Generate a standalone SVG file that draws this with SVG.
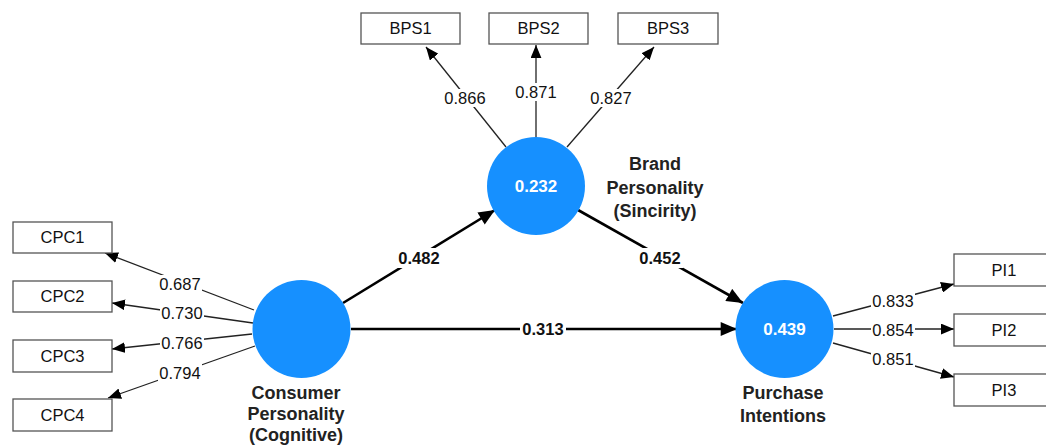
<svg xmlns="http://www.w3.org/2000/svg" width="1046" height="447" viewBox="0 0 1046 447">
<defs>
<marker id="ah" viewBox="0 0 12 10" refX="12" refY="5" markerWidth="13" markerHeight="11" markerUnits="userSpaceOnUse" orient="auto"><path d="M0,0 L12,5 L0,10 Z" fill="#000"/></marker>
<marker id="ahb" viewBox="0 0 14 12" refX="14" refY="6" markerWidth="17" markerHeight="14" markerUnits="userSpaceOnUse" orient="auto"><path d="M0,0 L14,6 L0,12 Z" fill="#000"/></marker>
<style>
.box{fill:#fff;stroke:#555;stroke-width:1.3}
.bt{font-family:"Liberation Sans",Arial,sans-serif;font-size:16.5px;fill:#111;text-anchor:middle}
.lv{fill:#1690ff}
.lvt{font-family:"Liberation Sans",Arial,sans-serif;font-size:17px;font-weight:bold;fill:#fff;text-anchor:middle}
.lvn{font-family:"Liberation Sans",Arial,sans-serif;font-size:18px;font-weight:bold;fill:#222;text-anchor:middle}
.ol{stroke:#222;stroke-width:1.3;fill:none;marker-end:url(#ah)}
.sl{stroke:#000;stroke-width:2.6;fill:none;marker-end:url(#ahb)}
.ll{font-family:"Liberation Sans",Arial,sans-serif;font-size:16.5px;fill:#111;text-anchor:middle}
.sll{font-family:"Liberation Sans",Arial,sans-serif;font-size:16.5px;font-weight:bold;fill:#111;text-anchor:middle}
.bg{fill:#fff}
</style>
</defs>
<rect width="1046" height="447" fill="#fff"/>
<g id="connectors">
<line class="ol" x1="506" y1="147" x2="426" y2="47"/>
<line class="ol" x1="536" y1="138" x2="536" y2="45"/>
<line class="ol" x1="567" y1="147" x2="654" y2="47"/>
<line class="ol" x1="254" y1="310" x2="105" y2="253"/>
<line class="ol" x1="253" y1="323" x2="112" y2="303"/>
<line class="ol" x1="252" y1="334" x2="112" y2="349"/>
<line class="ol" x1="255" y1="346" x2="108" y2="398"/>
<line class="ol" x1="833" y1="316" x2="954" y2="284"/>
<line class="ol" x1="834" y1="329" x2="954" y2="329"/>
<line class="ol" x1="833" y1="343" x2="954" y2="377"/>
<line class="sl" x1="343" y1="303" x2="495" y2="210"/>
<line class="sl" x1="578" y1="210" x2="743" y2="303"/>
<line class="sl" x1="351" y1="329" x2="737" y2="329"/>
<rect class="bg" x="443" y="89" width="44" height="18"/><text class="ll" x="465" y="98" dy="0.36em">0.866</text>
<rect class="bg" x="514" y="83" width="44" height="18"/><text class="ll" x="536" y="92" dy="0.36em">0.871</text>
<rect class="bg" x="589" y="89" width="44" height="18"/><text class="ll" x="611" y="98" dy="0.36em">0.827</text>
<rect class="bg" x="158" y="275" width="44" height="18"/><text class="ll" x="180" y="284" dy="0.36em">0.687</text>
<rect class="bg" x="160" y="304" width="44" height="18"/><text class="ll" x="182" y="313" dy="0.36em">0.730</text>
<rect class="bg" x="160" y="334" width="44" height="18"/><text class="ll" x="182" y="343" dy="0.36em">0.766</text>
<rect class="bg" x="158" y="364" width="44" height="18"/><text class="ll" x="180" y="373" dy="0.36em">0.794</text>
<rect class="bg" x="871" y="292" width="44" height="18"/><text class="ll" x="893" y="301" dy="0.36em">0.833</text>
<rect class="bg" x="871" y="321" width="44" height="18"/><text class="ll" x="893" y="330" dy="0.36em">0.854</text>
<rect class="bg" x="871" y="350" width="44" height="18"/><text class="ll" x="893" y="359" dy="0.36em">0.851</text>
<rect class="bg" x="396" y="248" width="46" height="20"/><text class="sll" x="419" y="258" dy="0.36em">0.482</text>
<rect class="bg" x="637" y="248" width="46" height="20"/><text class="sll" x="660" y="258" dy="0.36em">0.452</text>
<rect class="bg" x="520" y="319" width="46" height="20"/><text class="sll" x="543" y="329" dy="0.36em">0.313</text>
</g>
<g id="BPS1"><rect class="box" x="361" y="13" width="99" height="31"/><text class="bt" x="410.5" y="28.5" dy="0.36em">BPS1</text></g>
<g id="BPS2"><rect class="box" x="489" y="13" width="99" height="31"/><text class="bt" x="538.5" y="28.5" dy="0.36em">BPS2</text></g>
<g id="BPS3"><rect class="box" x="618" y="13" width="100" height="31"/><text class="bt" x="668" y="28.5" dy="0.36em">BPS3</text></g>
<g id="CPC1"><rect class="box" x="13" y="222" width="99" height="31"/><text class="bt" x="62.5" y="237.5" dy="0.36em">CPC1</text></g>
<g id="CPC2"><rect class="box" x="13" y="281" width="99" height="31"/><text class="bt" x="62.5" y="296.5" dy="0.36em">CPC2</text></g>
<g id="CPC3"><rect class="box" x="13" y="340" width="99" height="32"/><text class="bt" x="62.5" y="356" dy="0.36em">CPC3</text></g>
<g id="CPC4"><rect class="box" x="13" y="399" width="99" height="32"/><text class="bt" x="62.5" y="415" dy="0.36em">CPC4</text></g>
<g id="PI1"><rect class="box" x="954" y="254" width="100" height="32"/><text class="bt" x="1004" y="270" dy="0.36em">PI1</text></g>
<g id="PI2"><rect class="box" x="954" y="314" width="100" height="32"/><text class="bt" x="1004" y="330" dy="0.36em">PI2</text></g>
<g id="PI3"><rect class="box" x="954" y="374" width="100" height="32"/><text class="bt" x="1004" y="390" dy="0.36em">PI3</text></g>
<g id="BrandPersonality">
<circle class="lv" cx="536" cy="186" r="49"/>
<text class="lvt" x="536" y="186" dy="0.36em">0.232</text>
<text class="lvn" x="655" y="164" dy="0.36em">Brand</text>
<text class="lvn" x="655" y="188" dy="0.36em">Personality</text>
<text class="lvn" x="655" y="211" dy="0.36em">(Sincirity)</text>
</g>
<g id="ConsumerPersonality">
<circle class="lv" cx="301.5" cy="329" r="49"/>
<text class="lvn" x="296" y="393" dy="0.36em">Consumer</text>
<text class="lvn" x="296" y="414" dy="0.36em">Personality</text>
<text class="lvn" x="296" y="435" dy="0.36em">(Cognitive)</text>
</g>
<g id="PurchaseIntentions">
<circle class="lv" cx="784.5" cy="329" r="49"/>
<text class="lvt" x="784.5" y="329" dy="0.36em">0.439</text>
<text class="lvn" x="783" y="393" dy="0.36em">Purchase</text>
<text class="lvn" x="783" y="416" dy="0.36em">Intentions</text>
</g>
</svg>
